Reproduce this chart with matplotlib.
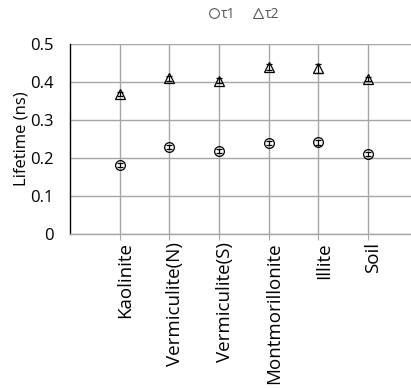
import numpy as np
import matplotlib
matplotlib.use("Agg")
import matplotlib.pyplot as plt
import matplotlib.transforms as mtransforms
from matplotlib.lines import Line2D

plt.rcParams['font.family'] = ['Open Sans', 'DejaVu Sans']

samples = ['Kaolinite', 'Vermiculite(N)', 'Vermiculite(S)', 'Montmorillonite', 'Illite', 'Soil']
tau1 = [0.182, 0.228, 0.219, 0.239, 0.241, 0.210]
tau1_err = [0.005, 0.005, 0.005, 0.005, 0.006, 0.005]
tau2 = [0.368, 0.409, 0.403, 0.439, 0.436, 0.408]
tau2_err = [0.006, 0.006, 0.006, 0.008, 0.012, 0.006]
yticks = [0, 0.1, 0.2, 0.3, 0.4, 0.5]

fig = plt.figure(figsize=(4.11, 3.88), dpi=100)
ax = fig.add_axes([0.171, 0.397, 0.829, 0.490])

x = np.arange(1, len(samples) + 1)
grid_c = '#a6a6a6'

ax.errorbar(x, tau1, yerr=tau1_err, fmt='o', ms=7, mfc='none', mec='black', mew=0.9,
            ecolor='black', elinewidth=0.8, capsize=2.5, capthick=0.8, zorder=3)
ax.errorbar(x, tau2, yerr=tau2_err, fmt='^', ms=7, mfc='none', mec='black', mew=0.9,
            ecolor='black', elinewidth=0.8, capsize=2.5, capthick=0.8, zorder=3)

ax.set_xlim(0, 6.87)
ax.set_ylim(0, 0.5)
ax.set_yticks(yticks)
ax.set_yticklabels(['0', '0.1', '0.2', '0.3', '0.4', '0.5'])
ax.set_xticks(x)
ax.set_xticklabels([])

# category labels, hung below the axis and nudged a little right of each gridline
trans = ax.get_xaxis_transform() + mtransforms.ScaledTranslation(4 / 72, -6 / 72, fig.dpi_scale_trans)
for xi, name in zip(x, samples):
    ax.text(xi, 0, name, transform=trans, rotation=90, ha='center', va='top',
            fontsize=13.5, clip_on=False)

ax.grid(True, color=grid_c, linewidth=1.0)
ax.set_axisbelow(True)
for side in ['top', 'right']:
    ax.spines[side].set_visible(False)
ax.spines['left'].set_color('black')
ax.spines['left'].set_linewidth(1.0)
ax.spines['bottom'].set_color(grid_c)
ax.spines['bottom'].set_linewidth(1.0)
ax.tick_params(axis='y', length=0, pad=12, labelsize=12)
ax.tick_params(axis='x', length=4, color=grid_c)

ax.set_ylabel('Lifetime (ns)', fontsize=12, labelpad=0)

handles = [Line2D([], [], ls='none', marker='o', ms=7, mfc='none', mec='#595959', mew=0.8),
           Line2D([], [], ls='none', marker='^', ms=7, mfc='none', mec='#595959', mew=0.8)]
fig.legend(handles, ['τ1', 'τ2'], loc='center', bbox_to_anchor=(0.596, 0.962), ncol=2,
           frameon=False, fontsize=10, handlelength=0.6, handletextpad=0.2,
           columnspacing=1.3, labelcolor='#595959')

fig.savefig('out.png', dpi=100)
